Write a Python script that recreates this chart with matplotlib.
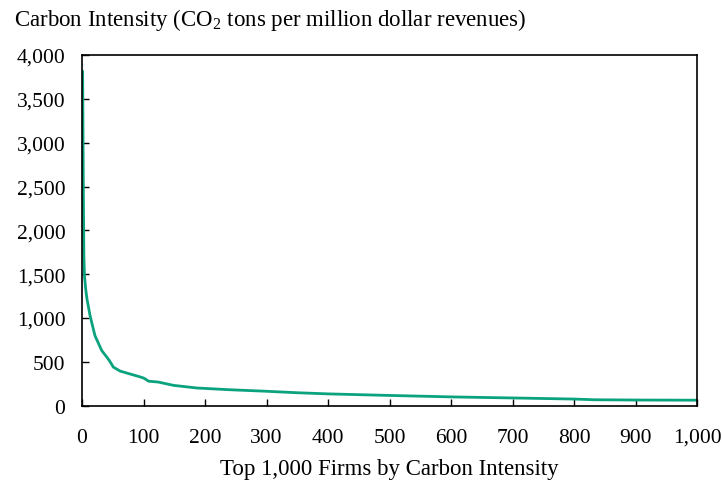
#!/usr/bin/env python3

import matplotlib
matplotlib.use('Agg')
import matplotlib.pyplot as plt
from matplotlib.ticker import FuncFormatter, MultipleLocator

# values (rank of firm, carbon intensity)
firm_rank = [1, 2, 3, 4, 6, 8, 13, 21, 32, 44, 51, 62, 78, 94, 100, 104, 108,
             124, 149, 187, 241, 296, 350, 400, 496, 605, 713, 800, 834, 900, 1000]
intensity = [3810, 2600, 1700, 1480, 1330, 1220, 1030, 800, 630, 520, 440, 395,
             362, 330, 316, 300, 280, 270, 232, 202, 182, 166, 148, 135, 118,
             100, 87, 76, 68, 65, 63]

LINE_COLOUR = '#0aa37e'
FONT_SIZE = 16.5
TICK_SIZE = 15.5

plt.rcParams['font.family'] = ['Liberation Serif', 'DejaVu Serif']
plt.rcParams['mathtext.fontset'] = 'custom'
plt.rcParams['mathtext.rm'] = 'Liberation Serif'


def thousands(v, _pos):
    return f'{int(v):,}'


def main():
    fig = plt.figure(figsize=(7.22, 4.85), dpi=100)
    ax = fig.add_axes([0.1136, 0.1614, 0.8518, 0.7231])

    ax.plot(firm_rank, intensity, color=LINE_COLOUR, lw=2.0, solid_joinstyle='round')

    ax.set_xlim(0, 1000)
    ax.set_ylim(0, 4000)
    ax.xaxis.set_major_locator(MultipleLocator(100))
    ax.yaxis.set_major_locator(MultipleLocator(500))
    ax.xaxis.set_major_formatter(FuncFormatter(thousands))
    ax.yaxis.set_major_formatter(FuncFormatter(thousands))

    ax.tick_params(axis='both', direction='in', length=5, width=1.0, labelsize=TICK_SIZE)
    ax.tick_params(axis='x', pad=16)
    ax.tick_params(axis='y', pad=12)
    for sp in ax.spines.values():
        sp.set_linewidth(1.2)

    ax.set_xlabel('Top 1,000 Firms by Carbon Intensity', fontsize=FONT_SIZE, labelpad=8)
    fig.text(14 / 722, 1 - 20 / 485,
             'Carbon Intensity (CO$_2$ tons per million dollar revenues)',
             fontsize=FONT_SIZE, ha='left', va='center')

    fig.savefig('out.png', dpi=100)


if __name__ == '__main__':
    main()
